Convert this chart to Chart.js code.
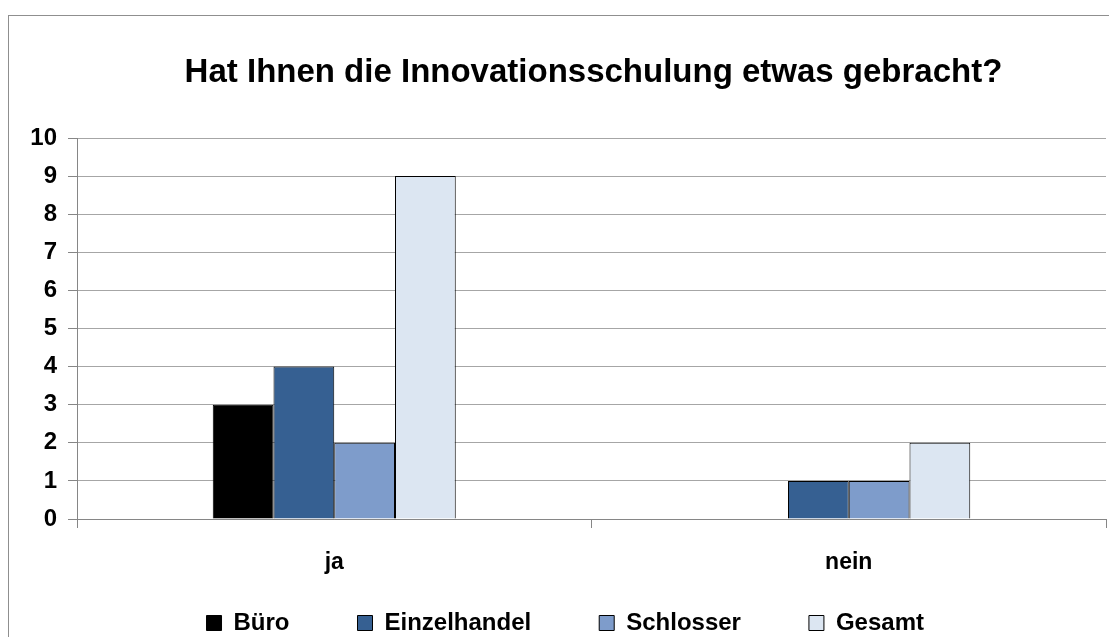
<!DOCTYPE html>
<html>
<head>
<meta charset="utf-8">
<script src="https://cdn.jsdelivr.net/npm/chart.js@4"></script>
<style>
  html, body { margin: 0; padding: 0; background: #fff; }
  #wrap { width: 1109px; height: 637px; position: relative; }
</style>
</head>
<body>
<div id="wrap"><canvas id="chart"></canvas></div>
<script>
/* data */
const titleText = 'Hat Ihnen die Innovationsschulung etwas gebracht?';
const categories = ['ja', 'nein'];
const seriesNames = ['Büro', 'Einzelhandel', 'Schlosser', 'Gesamt'];
const buero = [3, 0];
const einzelhandel = [4, 1];
const schlosser = [2, 1];
const gesamt = [9, 2];
const yTicks = [0, 1, 2, 3, 4, 5, 6, 7, 8, 9, 10];

const colors = ['#000000', '#366092', '#7e9ccb', '#dce6f2'];
const FONT = "'Liberation Sans', Arial, sans-serif";

/* frame + title drawn on the canvas */
const framePlugin = {
    id: 'frame',
    beforeDraw(chart) {
        const ctx = chart.ctx;
        ctx.save();
        ctx.strokeStyle = '#8f8f8f';
        ctx.lineWidth = 1;
        ctx.strokeRect(8.5, 15.5, 1200, 1000);
        ctx.restore();
    },
    afterDraw(chart) {
        const { ctx, chartArea } = chart;
        ctx.save();
        ctx.font = 'bold 33px ' + FONT;
        ctx.fillStyle = '#000';
        ctx.textAlign = 'center';
        ctx.textBaseline = 'alphabetic';
        ctx.fillText(titleText, (chartArea.left + chartArea.right) / 2 + 2, 82);
        ctx.restore();
    }
};

const data = [buero, einzelhandel, schlosser, gesamt];

new Chart(document.getElementById('chart'), {
    type: 'bar',
    data: {
        labels: categories,
        datasets: seriesNames.map((name, i) => ({
            label: name,
            data: data[i],
            backgroundColor: colors[i],
            borderColor: '#000',
            borderWidth: 1,
            categoryPercentage: 0.4723,
            barPercentage: 1
        }))
    },
    options: {
        responsive: true, maintainAspectRatio: false,
        animation: false,
        layout: { padding: { top: 138, left: 24.5, right: 3, bottom: -8 } },
        plugins: {
            title: { display: false },
            tooltip: { enabled: false },
            legend: {
                position: 'bottom',
                labels: {
                    boxWidth: 15, boxHeight: 15, padding: 68,
                    color: '#000',
                    font: { family: FONT, size: 24, weight: 'bold' }
                }
            }
        },
        scales: {
            x: {
                offset: true,
                grid: { offset: true, drawOnChartArea: false, drawTicks: true, tickLength: 9, color: '#868686' },
                border: { color: '#868686' },
                ticks: { color: '#000', padding: 21, font: { family: FONT, size: 23, weight: 'bold' } },
                afterFit: s => {
                    s.height = 24;
                    // labels sit below the box, so don't clip them to it
                    s._computeLabelArea = () => null;
                }
            },
            y: {
                min: 0, max: 10,
                afterBuildTicks: s => { s.ticks = yTicks.map(v => ({ value: v })); },
                grid: { color: '#a6a6a6', tickLength: 9, tickColor: '#868686' },
                border: { color: '#868686' },
                ticks: { color: '#000', padding: 11, font: { family: FONT, size: 24, weight: 'bold' } },
                afterFit: s => { s.width = 52.5; }
            }
        }
    },
    plugins: [framePlugin]
});
</script>
</body>
</html>
